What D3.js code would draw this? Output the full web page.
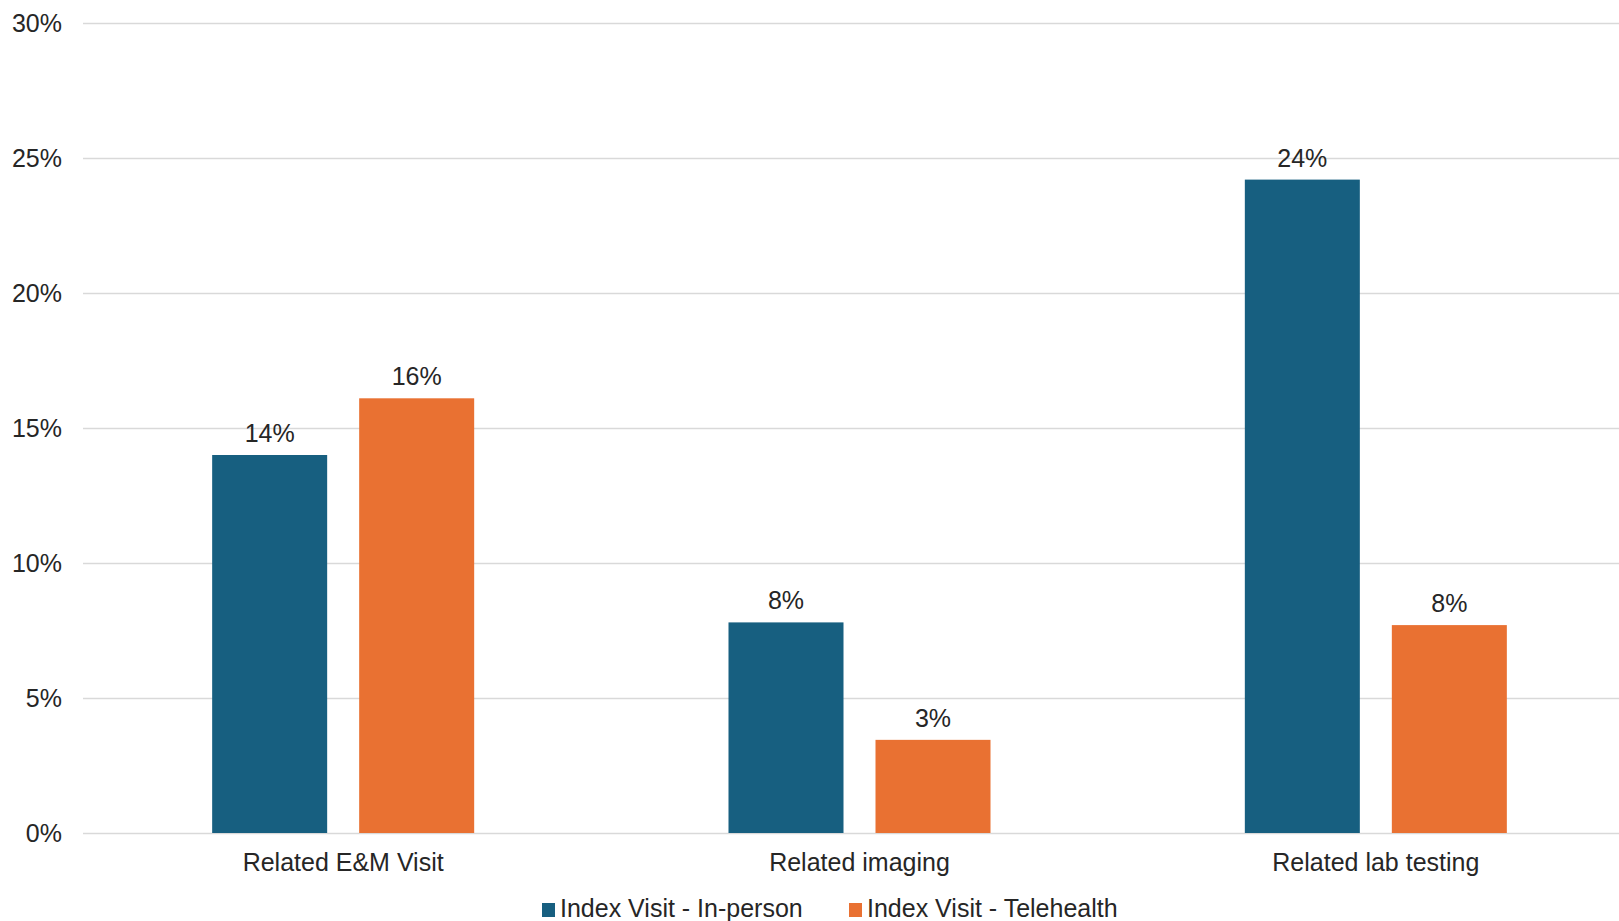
<!DOCTYPE html>
<html>
<head>
<meta charset="utf-8">
<script src="https://cdn.jsdelivr.net/npm/d3@7"></script>
<style>
	body { margin: 0; background: #ffffff; }
	svg { display: block; }
	text { font-family: "Liberation Sans", Arial, sans-serif; fill: #262626; }
</style>
</head>
<body>
<svg id="chart" width="1619" height="921"></svg>
<script>

// data (percent)
var categories = ["Related E&M Visit", "Related imaging", "Related lab testing"];
var seriesNames = ["Index Visit - In-person", "Index Visit - Telehealth"];
var inPersonValues = [14.0, 7.8, 24.2];
var telehealthValues = [16.1, 3.45, 7.7];
var yTicks = [0, 5, 10, 15, 20, 25, 30];

var seriesColors = ["#175f80", "#e97132"];
var seriesValues = [inPersonValues, telehealthValues];

var fontSize = "25px";

var svg = d3.select("#chart");

//##############
//### scales ###
//##############
var y = d3.scaleLinear()
	.domain([0, 30])
	.range([833, 23]);

var x0 = d3.scaleBand()
	.domain(categories)
	.range([85, 1634]);

var x1 = d3.scaleBand()
	.domain(seriesNames)
	.range([0, x0.bandwidth()])
	.paddingInner(0.2177)
	.paddingOuter(0.865);

//#################
//### gridlines ###
//#################
var yAxis = d3.axisLeft(y)
	.tickValues(yTicks)
	.tickSize(0)
	.tickPadding(21)
	.tickFormat(function(d){ return d + "%"; });

var axisGroup = svg.append("g")
	.attr("transform", "translate(83,0)")
	.call(yAxis);

axisGroup.select(".domain").remove();

axisGroup.selectAll(".tick text")
	.style("font-size", fontSize)
	.attr("fill", "#262626")
	.style("font-family", "'Liberation Sans', Arial, sans-serif");

axisGroup.selectAll(".tick")
	.append("line")
	.attr("x1", 0)
	.attr("x2", 1619 - 83)
	.attr("stroke", "#d9d9d9")
	.attr("stroke-width", 1.3);

//############
//### bars ###
//############
var barData = [];
categories.forEach(function(cat, ci){
	seriesNames.forEach(function(s, si){
		barData.push({category: cat, series: s, value: seriesValues[si][ci], color: seriesColors[si]});
	});
});

var groups = svg.append("g").attr("class", "bars");

groups.selectAll("rect")
	.data(barData)
	.enter()
	.append("rect")
		.attr("x", function(d){ return x0(d.category) + x1(d.series); })
		.attr("y", function(d){ return y(d.value); })
		.attr("width", x1.bandwidth())
		.attr("height", function(d){ return y(0) - y(d.value); })
		.attr("fill", function(d){ return d.color; });

groups.selectAll("text.value")
	.data(barData)
	.enter()
	.append("text")
		.attr("class", "value")
		.attr("x", function(d){ return x0(d.category) + x1(d.series) + x1.bandwidth() / 2; })
		.attr("y", function(d){ return y(d.value) - 13; })
		.attr("text-anchor", "middle")
		.style("font-size", fontSize)
		.text(function(d){ return Math.round(d.value) + "%"; });

//#######################
//### category labels ###
//#######################
svg.append("g")
	.selectAll("text")
	.data(categories)
	.enter()
	.append("text")
		.attr("x", function(d){ return x0(d) + x1("Index Visit - In-person") + x1.bandwidth() + (x1.step() - x1.bandwidth()) / 2; })
		.attr("y", 871)
		.attr("text-anchor", "middle")
		.style("font-size", fontSize)
		.text(function(d){ return d; });

//##############
//### legend ###
//##############
var legendX = [542, 849];
var legend = svg.append("g").attr("class", "legend");

var items = legend.selectAll("g")
	.data(seriesNames)
	.enter()
	.append("g")
		.attr("transform", function(d, i){ return "translate(" + legendX[i] + ",0)"; });

items.append("rect")
	.attr("x", 0)
	.attr("y", 903)
	.attr("width", 13)
	.attr("height", 14)
	.attr("fill", function(d, i){ return seriesColors[i]; });

items.append("text")
	.attr("x", 18)
	.attr("y", 917)
	.style("font-size", fontSize)
	.text(function(d){ return d; });

</script>
</body>
</html>
